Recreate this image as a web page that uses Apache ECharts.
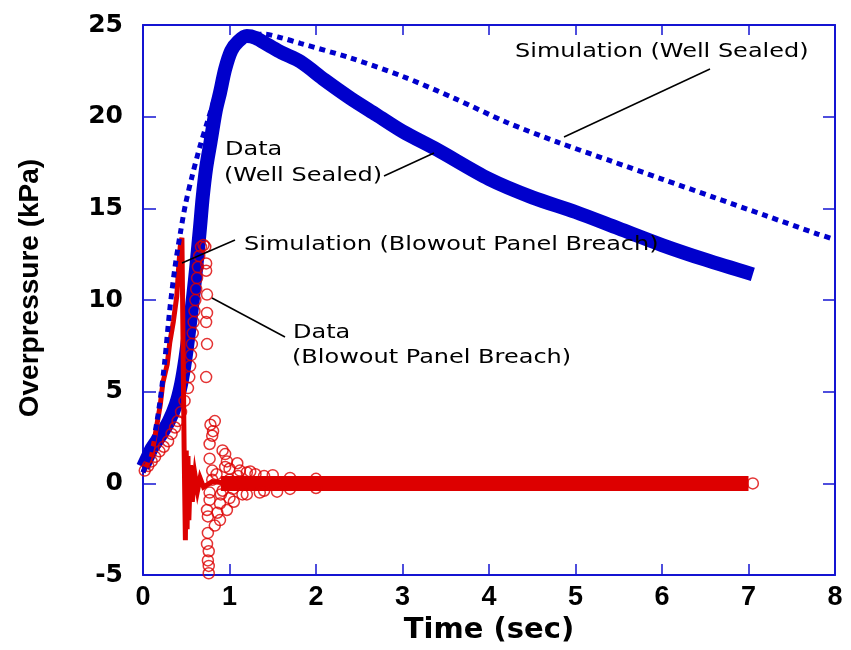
<!DOCTYPE html>
<html><head><meta charset="utf-8">
<script src="https://cdn.jsdelivr.net/npm/echarts@6/dist/echarts.min.js"></script>
<style>html,body{margin:0;padding:0;background:#fff}#c{width:851px;height:650px}</style>
</head><body><div id="c"></div>
<script>
// ---- axis ticks ----
const xTicks = [0, 1, 2, 3, 4, 5, 6, 7, 8];
const yTicks = [-5, 0, 5, 10, 15, 20, 25];

// ---- Data (Well Sealed) : thick blue band ----
const dataSealedT = [0, 0.05, 0.1, 0.2, 0.3, 0.38, 0.44, 0.49, 0.54, 0.58, 0.62, 0.66, 0.69, 0.73, 0.78, 0.84, 0.89, 0.95, 1.02, 1.1, 1.2, 1.3, 1.45, 1.6, 1.82, 2.1, 2.4, 2.7, 3.0, 3.4, 4.0, 4.5, 5.0, 5.5, 6.0, 6.5, 7.05];
const dataSealedP = [0.9, 1.4, 1.9, 2.6, 3.4, 4.3, 5.4, 6.8, 8.6, 10.2, 12.0, 14.0, 15.6, 17.2, 18.6, 20.3, 21.3, 22.6, 23.6, 24.1, 24.4, 24.3, 23.9, 23.5, 23.0, 22.0, 21.0, 20.1, 19.2, 18.2, 16.6, 15.6, 14.8, 13.9, 13.0, 12.2, 11.4];

// ---- Simulation (Well Sealed) : dashed blue ----
const simSealedT = [0, 0.08, 0.14, 0.2, 0.25, 0.31, 0.37, 0.43, 0.49, 0.57, 0.66, 0.75, 0.83, 0.95, 1.06, 1.15, 1.25, 1.4, 1.6, 1.82, 2.4, 3.0, 3.6, 4.2, 4.8, 5.4, 6.0, 6.6, 7.2, 7.8, 8.0];
const simSealedP = [0.6, 1.6, 2.8, 4.6, 6.6, 9.5, 11.8, 13.6, 15.2, 16.8, 18.4, 19.8, 21.0, 22.6, 23.6, 24.2, 24.5, 24.5, 24.3, 24.0, 23.2, 22.2, 21.0, 19.7, 18.6, 17.6, 16.6, 15.6, 14.6, 13.6, 13.3];

// ---- Simulation (Blowout Panel Breach) : red line ----
const simBreachT = [0, 0.1, 0.2, 0.23, 0.28, 0.31, 0.35, 0.39, 0.41, 0.43, 0.45, 0.46, 0.475, 0.49, 0.5, 0.51, 0.52, 0.53, 0.55, 0.57, 0.6, 0.63, 0.66, 0.7, 0.8, 1.0, 2.0, 3.0, 4.0, 5.0, 6.0, 7.0];
const simBreachP = [0.6, 1.5, 4.3, 5.5, 6.5, 7.7, 8.8, 10.2, 11.6, 12.9, 13.4, 9.0, 2.0, -3.1, 1.8, -2.5, 1.5, -2.0, 1.0, -1.0, 0.5, -0.4, 0.3, -0.2, 0.1, 0.0, 0.0, 0.0, 0.0, 0.0, 0.0, 0.0];

// ---- Data (Blowout Panel Breach) : red open circles ----
const dataBreachT = [0.02, 0.06, 0.1, 0.14, 0.19, 0.24, 0.29, 0.33, 0.37, 0.4, 0.44, 0.48, 0.52, 0.535, 0.545, 0.555, 0.565, 0.575, 0.585, 0.595, 0.605, 0.615, 0.625, 0.635, 0.65, 0.67,
  0.70, 0.72, 0.73, 0.73, 0.74, 0.74, 0.73, 0.74, 0.73,
  0.75, 0.74, 0.76, 0.75, 0.76, 0.76,
  0.78, 0.83, 0.81, 0.80, 0.77, 0.92, 0.95, 0.77, 0.97, 1.09, 0.80, 1.00, 1.12, 1.24, 0.80, 1.00, 0.77, 0.92, 1.04, 0.77, 0.89, 1.00, 0.74, 0.86, 0.97, 0.75, 0.89, 0.83,
  0.85, 0.90, 0.95, 1.05, 1.10, 1.15, 1.30, 1.35, 1.50, 1.55,
  1.2, 1.4, 1.7, 2.0, 1.2, 1.4, 1.7, 2.0, 7.05];
const dataBreachP = [0.7, 0.95, 1.2, 1.45, 1.75, 2.0, 2.3, 2.7, 3.05, 3.4, 3.9, 4.5, 5.2, 5.8, 6.4, 7.0, 7.6, 8.2, 8.8, 9.4, 10.0, 10.6, 11.2, 11.8, 12.4, 12.9,
  13.0, 12.9, 12.0, 11.6, 10.3, 9.3, 8.8, 7.6, 5.8,
  -2.7, -3.3, -3.7, -4.2, -4.5, -4.9,
  3.2, 3.4, 2.85, 2.6, 2.15, 1.8, 1.6, 1.35, 1.2, 1.1, 0.7, 0.8, 0.7, 0.65, 0.2, 0.2, -0.5, -0.4, -0.3, -0.9, -1.1, -0.8, -1.45, -1.6, -1.45, -1.8, -2.0, -2.3,
  0.5, -0.6, 0.9, -1.0, 0.4, -0.6, 0.5, -0.5, 0.45, -0.45,
  0.6, 0.4, 0.3, 0.25, -0.6, -0.4, -0.3, -0.25, 0.0];
// dense, settled part of the breach data (drawn as a solid band)
const breachBandT = [0.9, 7.0];
const breachBandP = [0.0, 0.0];

const BLUE = '#0000cc', RED = '#dd0000', AXIS = '#1414d2';
const pairs = (t, p) => t.map((v, i) => [v, p[i]]);

const chart = echarts.init(document.getElementById('c'), null, {renderer: 'canvas'});

const axisCommon = {
  type: 'value',
  axisLine: {show: true, onZero: false, lineStyle: {color: AXIS, width: 2}},
  splitLine: {show: false},
  minorTick: {show: false}
};

const textItems = [
  {t: 'Simulation (Well Sealed)', x: 515, y: 52},
  {t: 'Data', x: 225, y: 150},
  {t: '(Well Sealed)', x: 224, y: 176},
  {t: 'Simulation (Blowout Panel Breach)', x: 244, y: 245},
  {t: 'Data', x: 293, y: 333},
  {t: '(Blowout Panel Breach)', x: 292, y: 358}
];
const leaders = [
  [710, 69, 564, 137],
  [384, 176, 434, 153],
  [235, 240, 182, 263],
  [285, 337, 212, 298]
];

chart.setOption({
  animation: false,
  backgroundColor: '#fff',
  grid: {left: 143, right: 16, top: 25, bottom: 67, containLabel: false},
  xAxis: [
    Object.assign({}, axisCommon, {
      position: 'bottom',
      min: xTicks[0], max: xTicks[xTicks.length - 1], interval: xTicks[1] - xTicks[0],
      axisTick: {show: true, inside: true, length: 11, lineStyle: {color: AXIS, width: 1.5}},
      axisLabel: {show: true, margin: 9, color: '#000', fontFamily: 'Liberation Sans', fontWeight: 'bold', fontSize: 27},
      name: 'Time (sec)', nameLocation: 'middle', nameGap: 51,
      nameTextStyle: {color: '#000', fontFamily: 'DejaVu Sans', fontWeight: 'bold', fontSize: 29, verticalAlign: 'middle'}
    }),
    Object.assign({}, axisCommon, {
      position: 'top',
      min: xTicks[0], max: xTicks[xTicks.length - 1], interval: xTicks[1] - xTicks[0],
      axisTick: {show: true, inside: true, length: 10, lineStyle: {color: AXIS, width: 1.5}},
      axisLabel: {show: false}
    })
  ],
  yAxis: [
    Object.assign({}, axisCommon, {
      position: 'left',
      min: yTicks[0], max: yTicks[yTicks.length - 1], interval: yTicks[1] - yTicks[0],
      axisTick: {show: true, inside: true, length: 13, lineStyle: {color: AXIS, width: 1.5}},
      axisLabel: {show: true, margin: 20, color: '#000', fontFamily: 'DejaVu Sans', fontWeight: 'bold', fontSize: 25, padding: [0, 0, 5, 0]},
      name: 'Overpressure (kPa)', nameLocation: 'middle', nameGap: 113,
      nameTextStyle: {color: '#000', fontFamily: 'Liberation Sans', fontWeight: 'bold', fontSize: 28, verticalAlign: 'middle', padding: [0, 0, 0, 24]}
    }),
    Object.assign({}, axisCommon, {
      position: 'right',
      min: yTicks[0], max: yTicks[yTicks.length - 1], interval: yTicks[1] - yTicks[0],
      axisTick: {show: true, inside: true, length: 12, lineStyle: {color: AXIS, width: 1.5}},
      axisLabel: {show: false}
    })
  ],
  series: [
    {
      name: 'Data (Well Sealed)', type: 'line', xAxisIndex: 0, yAxisIndex: 0, z: 2,
      data: pairs(dataSealedT, dataSealedP), showSymbol: false, symbol: 'none', smooth: 0.3,
      lineStyle: {color: BLUE, width: 14, cap: 'butt', join: 'round'}
    },
    {
      name: 'Data (Blowout Panel Breach) band', type: 'line', z: 3,
      data: pairs(breachBandT, breachBandP), showSymbol: false, symbol: 'none',
      lineStyle: {color: RED, width: 15, cap: 'butt'}
    },
    {
      name: 'Data (Blowout Panel Breach)', type: 'scatter', z: 4, clip: false,
      data: pairs(dataBreachT, dataBreachP), symbol: 'circle', symbolSize: 11,
      itemStyle: {color: 'rgba(0,0,0,0)', borderColor: RED, borderWidth: 1.5}
    },
    {
      name: 'Simulation (Blowout Panel Breach)', type: 'line', z: 5,
      data: pairs(simBreachT, simBreachP), showSymbol: false, symbol: 'none',
      lineStyle: {color: RED, width: 5, join: 'miter'}
    },
    {
      name: 'Simulation (Well Sealed)', type: 'line', z: 6,
      data: pairs(simSealedT, simSealedP), showSymbol: false, symbol: 'none', smooth: 0.3,
      lineStyle: {color: BLUE, width: 5, type: [6, 5], cap: 'butt'}
    }
  ],
  graphic: [].concat(
    leaders.map(l => ({type: 'line', z: 100, shape: {x1: l[0], y1: l[1], x2: l[2], y2: l[3]}, style: {stroke: '#000', lineWidth: 1.5}})),
    textItems.map(o => ({type: 'text', z: 100, x: o.x, y: o.y, scaleX: 1.2,
      style: {text: o.t, x: 0, y: 0, fill: '#000', font: '20px "DejaVu Sans"', align: 'left', verticalAlign: 'middle'}}))
  )
});
</script></body></html>
